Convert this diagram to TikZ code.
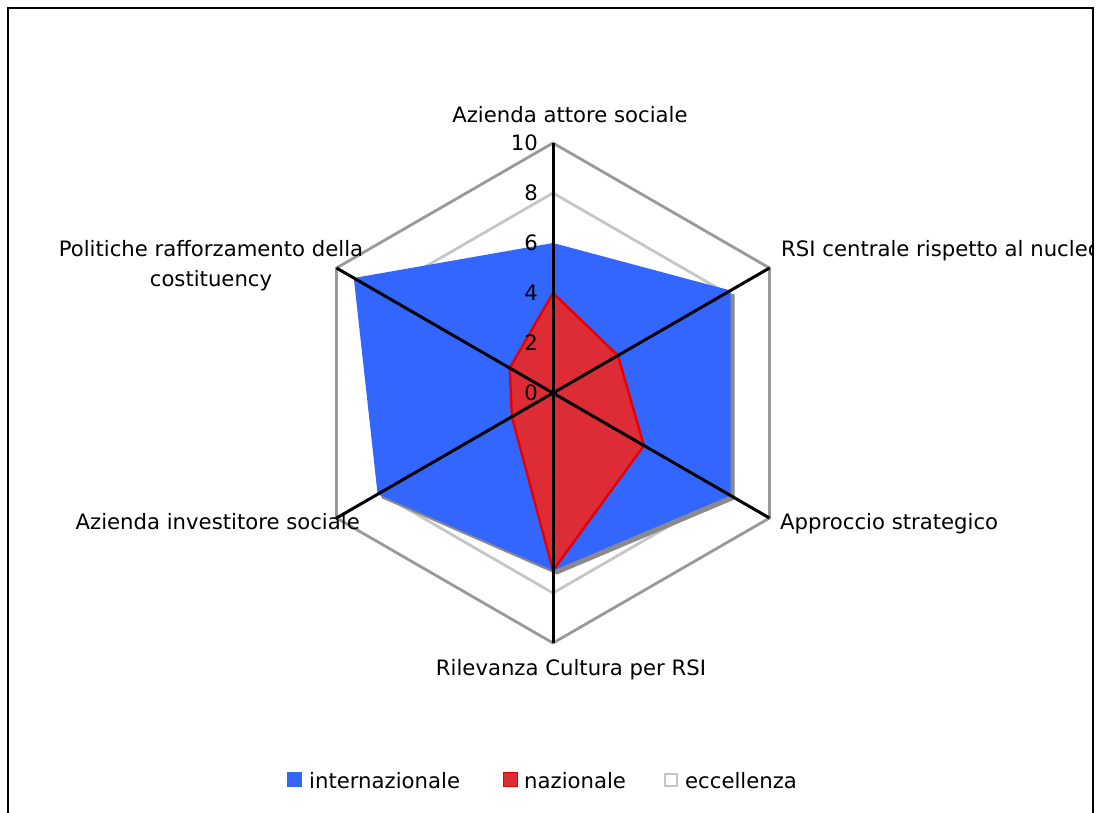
\documentclass[tikz,border=0pt]{standalone}
\usepackage{fontspec}
\setmainfont{DejaVu Sans}
\usetikzlibrary{calc}
\definecolor{SeriesBlue}{HTML}{3366FF}
\definecolor{SeriesRed}{HTML}{DD2C36}
\definecolor{EdgeRed}{HTML}{E60000}
\definecolor{RingGrey}{HTML}{999999}
\definecolor{TopGrey}{HTML}{C6C6C6}
\definecolor{ShadowGrey}{HTML}{8A8A8A}

\begin{document}
\begin{tikzpicture}[x=1pt,y=-1pt,font=\fontsize{21.2}{30}\selectfont,
          ring/.style={draw=RingGrey,line width=2.8pt},
          top/.style={draw=TopGrey,fill=white,line width=2.8pt},
          intl/.style={fill=SeriesBlue},
          natl/.style={fill=SeriesRed,draw=EdgeRed,line width=2.4pt,line join=round},
          shade/.style={fill=ShadowGrey},
          spoke/.style={draw=black,line width=3pt},
          tick/.style={anchor=base east,inner sep=0pt},
          axlabel/.style={inner sep=0pt},
          key/.style={minimum size=15pt,inner sep=0pt}]
        \useasboundingbox[fill=white] (0,0) rectangle (1098,812);
        \begin{scope}
        \clip (8,8) rectangle (1093,812);
        \coordinate (O) at (553,393);
        % outer ring at 10 and the eccellenza series at 8
        \foreach \k in {0,...,5}{%
          \coordinate (rim\k) at ($(O)+({-90+60*\k}:250)$);
          \coordinate (exc\k) at ($(O)+({-90+60*\k}:200)$);
        }
        \draw[ring] (rim0) -- (rim1) -- (rim2) -- (rim3) -- (rim4) -- (rim5) -- cycle;
        \draw[top] (exc0) -- (exc1) -- (exc2) -- (exc3) -- (exc4) -- (exc5) -- cycle;
        % internazionale
        \foreach \v [count=\k from 0] in {6,8.2,8.2,7.1,8.1,9.2}{%
          \coordinate (int\k) at ($(O)+({-90+60*\k}:{25*\v})$);
        }
        \fill[shade] ([xshift=4pt,yshift=-4pt]int0) -- ([xshift=4pt,yshift=-4pt]int1)
          -- ([xshift=4pt,yshift=-4pt]int2) -- ([xshift=4pt,yshift=-4pt]int3)
          -- ([xshift=4pt,yshift=-4pt]int4) -- ([xshift=4pt,yshift=-4pt]int5) -- cycle;
        \fill[intl] (int0) -- (int1) -- (int2) -- (int3) -- (int4) -- (int5) -- cycle;
        % nazionale
        \foreach \v [count=\k from 0] in {4,3,4.2,7.1,1.9,2}{%
          \coordinate (naz\k) at ($(O)+({-90+60*\k}:{25*\v})$);
        }
        \filldraw[natl] (naz0) -- (naz1) -- (naz2) -- (naz3) -- (naz4) -- (naz5) -- cycle;
        % spokes
        \foreach \k in {0,...,5}{%
          \draw[spoke] (O) -- (rim\k);
        }
        \foreach \v in {0,2,...,10}{%
          \node[tick] (tick\v) at (538,{400-25*\v}) {\v};
        }
        \node[axlabel,anchor=base] (lab0) at (570,122) {Azienda attore sociale};
        \node[axlabel,anchor=base west] (lab1) at (781,256) {RSI centrale rispetto al nucleo};
        \node[axlabel,anchor=base west] (lab2) at (780,529) {Approccio strategico};
        \node[axlabel,anchor=base] (lab3) at (571,675) {Rilevanza Cultura per RSI};
        \node[axlabel,anchor=base east] (lab4) at (360,529) {Azienda investitore sociale};
        \node[axlabel,anchor=base,align=center] (lab5) at (211,286)
          {Politiche rafforzamento della\\costituency};
        % legend
        \node[key,fill=SeriesBlue] (keyA) at (294.5,779.5) {};
        \node[axlabel,anchor=base west] (txtA) at (309,788) {internazionale};
        \node[key,fill=SeriesRed,draw=EdgeRed,line width=1.2pt,minimum size=14pt] (keyB) at (510.5,779.5) {};
        \node[axlabel,anchor=base west] (txtB) at (524,788) {nazionale};
        \node[key,fill=white,draw=TopGrey,line width=1.2pt,minimum size=12pt] (keyC) at (671,780) {};
        \node[axlabel,anchor=base west] (txtC) at (685,788) {eccellenza};
        \end{scope}
        \draw[line width=2pt] (8,830) -- (8,8) -- (1093,8) -- (1093,830);
      \end{tikzpicture}
\end{document}
